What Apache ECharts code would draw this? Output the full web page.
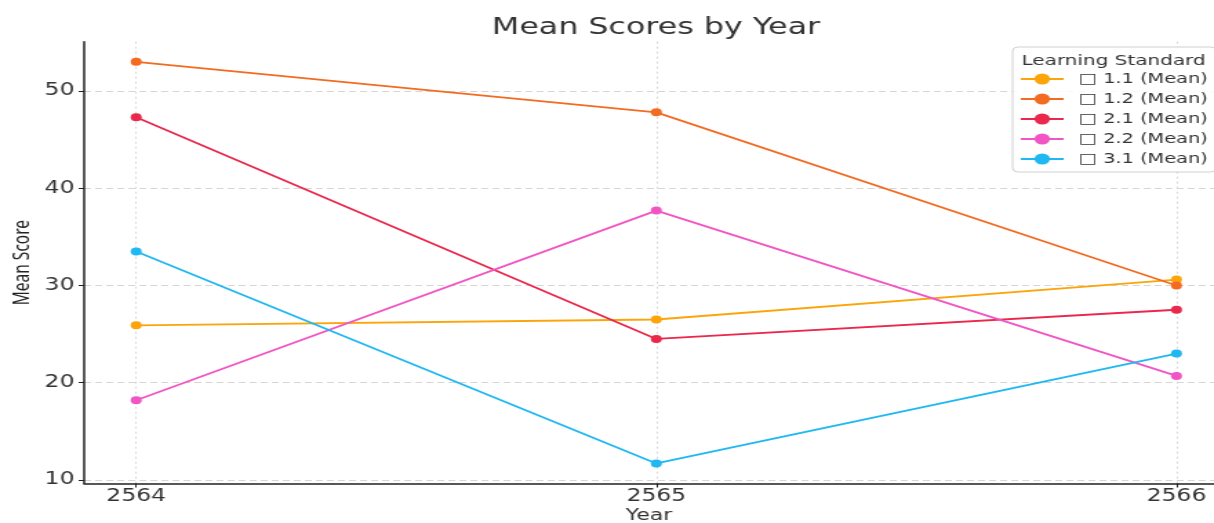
<!DOCTYPE html>
<html>
<head>
<meta charset="utf-8">
<title>Mean Scores by Year</title>
<script src="https://cdn.jsdelivr.net/npm/echarts@6/dist/echarts.min.js"></script>
<style>
  html, body { margin: 0; padding: 0; background: #fff; overflow: hidden; }
  /* the source picture is stretched sideways, so draw narrow and scale it */
  #chart { width: 880px; height: 523px; transform: scaleX(1.3795); transform-origin: 0 0; }
</style>
</head>
<body>
<div id="chart"></div>
<script>
// data
const years = [2564, 2565, 2566]
const yTicks = [10, 20, 30, 40, 50]
const names = ['\u25A1 1.1 (Mean)', '\u25A1 1.2 (Mean)', '\u25A1 2.1 (Mean)', '\u25A1 2.2 (Mean)', '\u25A1 3.1 (Mean)']
const std11 = [25.9, 26.5, 30.6]
const std12 = [53.0, 47.8, 30.0]
const std21 = [47.3, 24.5, 27.5]
const std22 = [18.2, 37.7, 20.7]
const std31 = [33.5, 11.7, 23.0]
const colors = ['#fba50a', '#f26b21', '#e9284c', '#f155c4', '#1fb8f0']

const font = 'DejaVu Sans'
const allSeries = [std11, std12, std21, std22, std31]

const chart = echarts.init(document.getElementById('chart'))

chart.setOption({
  animation: false,
  color: colors,
  textStyle: { fontFamily: font, color: '#333' },
  // v6 shrinks the grid to fit names unless told not to
  grid: { left: 61, right: 0, top: 41.7, bottom: 39.5, containLabel: false, outerBoundsMode: 'none' },
  graphic: [
    {
      type: 'text', z: 100, x: 475.5, y: 28,
      style: { text: 'Mean Scores by Year', font: '23px "DejaVu Sans"', fill: '#333', align: 'center', verticalAlign: 'middle' }
    },
    {
      type: 'text', z: 100, x: 740.5, y: 61,
      style: { text: 'Learning Standard', font: '14.5px "DejaVu Sans"', fill: '#333', align: 'left', verticalAlign: 'middle' }
    }
  ],
  legend: {
    orient: 'vertical',
    left: 734,
    top: 47,
    padding: [25, 6, 6, 5],
    itemGap: 6,
    itemWidth: 31,
    itemHeight: 14,
    borderColor: '#d0d0d0',
    borderWidth: 1,
    borderRadius: 4,
    backgroundColor: 'rgba(255,255,255,0.85)',
    textStyle: { fontFamily: font, fontSize: 14, color: '#333', padding: [0, 0, 0, 6] },
    data: names
  },
  xAxis: {
    type: 'value',
    min: 2563.9,
    max: 2566.072,
    name: 'Year',
    nameLocation: 'middle',
    nameGap: 24,
    nameMoveOverlap: false,
    nameTextStyle: { fontFamily: font, fontSize: 16, color: '#333' },
    axisLine: { show: true, onZero: false, lineStyle: { color: '#222', width: 1.5 } },
    axisTick: { show: true, inside: false, length: 4, customValues: years, lineStyle: { color: '#222', width: 1 } },
    axisLabel: { customValues: years, margin: 5, fontSize: 17, color: '#333', formatter: v => String(v) },
    splitLine: { show: true, lineStyle: { color: '#d6d6d6', type: [2, 3], width: 1 } }
  },
  yAxis: {
    type: 'value',
    min: 9.635,
    max: 55.065,
    name: 'Mean Score',
    nameLocation: 'middle',
    nameGap: 36,
    nameMoveOverlap: false,
    nameTextStyle: { fontFamily: '"Noto Sans", sans-serif', fontSize: 15.5, color: '#222' },
    axisLine: { show: true, onZero: false, lineStyle: { color: '#222', width: 1.5 } },
    axisTick: { show: true, inside: false, length: 4, customValues: yTicks, lineStyle: { color: '#222', width: 1 } },
    axisLabel: { customValues: yTicks, margin: 7, fontSize: 17, color: '#333' },
    splitLine: { show: true, lineStyle: { color: '#d6d6d6', type: [5, 3], width: 1 } }
  },
  series: allSeries.map((vals, i) => ({
    name: names[i],
    type: 'line',
    data: years.map((y, j) => [y, vals[j]]),
    symbol: 'circle',
    symbolSize: 8,
    showSymbol: true,
    lineStyle: { width: 1.8 },
    emphasis: { disabled: true }
  }))
})
</script>
</body>
</html>
